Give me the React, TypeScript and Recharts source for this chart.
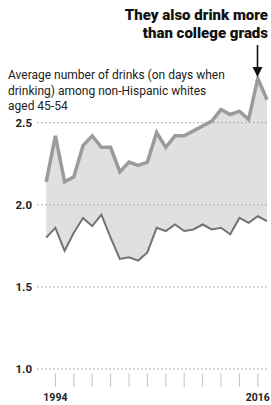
import React from "react";
import {
  ComposedChart,
  Area,
  Line,
  XAxis,
  YAxis,
  ReferenceLine,
} from "recharts";

const years = [
  1993, 1994, 1995, 1996, 1997, 1998, 1999, 2000, 2001, 2002, 2003, 2004, 2005,
  2006, 2007, 2008, 2009, 2010, 2011, 2012, 2013, 2014, 2015, 2016, 2017,
];
const upperValues = [
  2.14, 2.42, 2.14, 2.17, 2.36, 2.42, 2.35, 2.35, 2.2, 2.26, 2.24, 2.26, 2.44,
  2.35, 2.42, 2.42, 2.45, 2.48, 2.51, 2.58, 2.55, 2.57, 2.52, 2.77, 2.64,
];
const lowerValues = [
  1.8, 1.86, 1.72, 1.83, 1.92, 1.87, 1.94, 1.8, 1.67, 1.68, 1.66, 1.71, 1.86,
  1.84, 1.88, 1.84, 1.85, 1.88, 1.85, 1.86, 1.82, 1.92, 1.89, 1.93, 1.9,
];
const yTicks = [1.0, 1.5, 2.0, 2.5];
const xTicks = [1994, 1996, 1998, 2000, 2002, 2004, 2006, 2008, 2010, 2012, 2014, 2016];
const labeledYears = [1994, 2016];

const titleLines = ["They also drink more", "than college grads"];
const subtitleLines = [
  "Average number of drinks (on days when",
  "drinking) among non-Hispanic whites",
  "aged 45-54",
];

const data = years.map((year, i) => ({
  year,
  high: upperValues[i],
  low: lowerValues[i],
}));

const FONT = "Roboto, 'DejaVu Sans', sans-serif";

const XTick = (props: any) => {
  const { x, y, payload } = props;
  const show = labeledYears.includes(payload.value);
  return (
    <g>
      <line x1={x} x2={x} y1={y + 4} y2={y + 18} stroke="#c4c4c4" strokeWidth={1} />
      {show && (
        <text
          x={x}
          y={y + 32}
          textAnchor="middle"
          fontFamily={FONT}
          fontWeight={700}
          fontSize={10.5}
          fill="#222"
        >
          {payload.value}
        </text>
      )}
    </g>
  );
};

export default function App() {
  return (
    <div
      style={{
        position: "fixed",
        left: 0,
        top: 0,
        width: 271,
        height: 405,
        background: "#fff",
        fontFamily: FONT,
      }}
    >
      <ComposedChart
        width={271}
        height={405}
        data={data}
        margin={{ top: 57, right: 4, bottom: 0, left: 0 }}
      >
        <XAxis
          dataKey="year"
          type="number"
          domain={[1992, 2017]}
          ticks={xTicks}
          axisLine={false}
          tickLine={false}
          tickSize={0}
          tickMargin={0}
          height={36}
          interval={0}
          tick={<XTick />}
        />
        <YAxis
          type="number"
          domain={[1.0, 2.9]}
          ticks={yTicks}
          axisLine={false}
          tickLine={false}
          tickSize={0}
          tickMargin={5}
          width={37}
          tickFormatter={(v: number) => v.toFixed(1)}
          tick={{ fontFamily: FONT, fontWeight: 700, fontSize: 11.5, fill: "#222" }}
        />
        <Area
          type="linear"
          dataKey={(d: any) => [d.low, d.high]}
          stroke="none"
          fill="#c6c6ca"
          fillOpacity={0.55}
          isAnimationActive={false}
        />
        {yTicks.map((v) => (
          <ReferenceLine
            key={v}
            y={v}
            stroke="#b0b0b0"
            strokeDasharray="2 2"
            strokeWidth={1}
          />
        ))}
        <Line
          type="linear"
          dataKey="high"
          stroke="#9b9b9b"
          strokeWidth={3.5}
          dot={false}
          isAnimationActive={false}
        />
        <Line
          type="linear"
          dataKey="low"
          stroke="#737373"
          strokeWidth={2}
          dot={false}
          isAnimationActive={false}
        />
      </ComposedChart>

      <div
        style={{
          position: "absolute",
          right: 3,
          top: 7,
          textAlign: "right",
          fontWeight: 900,
          fontSize: 15,
          lineHeight: "17.5px",
          color: "#111",
        }}
      >
        {titleLines.map((l) => (
          <div key={l}>{l}</div>
        ))}
      </div>

      <div
        style={{
          position: "absolute",
          left: 8,
          top: 68,
          fontSize: 12,
          lineHeight: "15.5px",
          color: "#222",
          whiteSpace: "nowrap",
        }}
      >
        {subtitleLines.map((l) => (
          <div key={l}>{l}</div>
        ))}
      </div>

      <svg
        width={271}
        height={405}
        style={{ position: "absolute", left: 0, top: 0, pointerEvents: "none" }}
      >
        <line x1={257.5} x2={257.5} y1={45} y2={70} stroke="#111" strokeWidth={1.6} />
        <polygon points="252.5,67 262.5,67 257.5,77" fill="#111" />
      </svg>
    </div>
  );
}
